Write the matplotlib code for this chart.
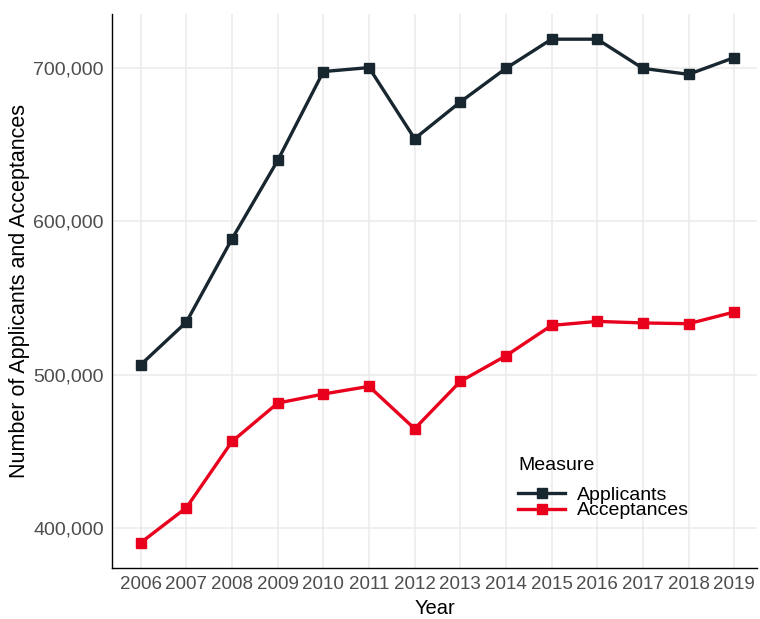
import matplotlib
matplotlib.use("Agg")
import matplotlib.pyplot as plt
from matplotlib.ticker import FuncFormatter

plt.rcParams['font.family'] = ['Liberation Sans', 'DejaVu Sans']

years = [2006, 2007, 2008, 2009, 2010, 2011, 2012, 2013, 2014, 2015, 2016, 2017, 2018, 2019]
applicants = [506500, 534300, 588500, 639500, 697400, 700000, 653700,
              677600, 699500, 718500, 718500, 699500, 695600, 706500]
acceptances = [390600, 413400, 456500, 481500, 487400, 492400, 464800,
               495600, 512300, 532100, 534700, 533700, 533200, 540800]
y_ticks = [400000, 500000, 600000, 700000]

navy = "#17262f"
red = "#e8001c"

fig = plt.figure(figsize=(7.6, 6.19), dpi=100)
ax = fig.add_axes([112 / 760, 51 / 619, (757 - 112) / 760, (568 - 14) / 619])

ax.plot(years, applicants, color=navy, lw=2.4, marker='s', ms=7, label="Applicants")
ax.plot(years, acceptances, color=red, lw=2.4, marker='s', ms=7, label="Acceptances")

# ggplot-like expansion
ax.set_xlim(years[0] - 0.63, years[-1] + 0.5)
ax.set_ylim(374100, 734900)
ax.set_xticks(years)
ax.set_yticks(y_ticks)
ax.yaxis.set_major_formatter(FuncFormatter(lambda v, p: f"{int(v):,}"))

ax.grid(True, color="#ebebeb", lw=1.1)
ax.set_axisbelow(True)
for s in ["top", "right"]:
    ax.spines[s].set_visible(False)
for s in ["left", "bottom"]:
    ax.spines[s].set_color("black")
    ax.spines[s].set_linewidth(1.0)

ax.tick_params(length=0, labelsize=14, labelcolor="#4d4d4d", pad=6)
ax.tick_params(axis="x", labelsize=13.5)
ax.set_xlabel("Year", fontsize=14.5, labelpad=4)
ax.set_ylabel("Number of Applicants and Acceptances", fontsize=15.5, labelpad=2)

leg = ax.legend(title="Measure", loc="upper left", bbox_to_anchor=(0.618, 0.215),
                frameon=False, fontsize=14, title_fontsize=14,
                handlelength=2.4, handletextpad=0.6, labelspacing=-0.1,
                borderaxespad=0)
leg._legend_box.align = "left"
leg._legend_box.sep = 9

fig.savefig("out.png", dpi=100)
